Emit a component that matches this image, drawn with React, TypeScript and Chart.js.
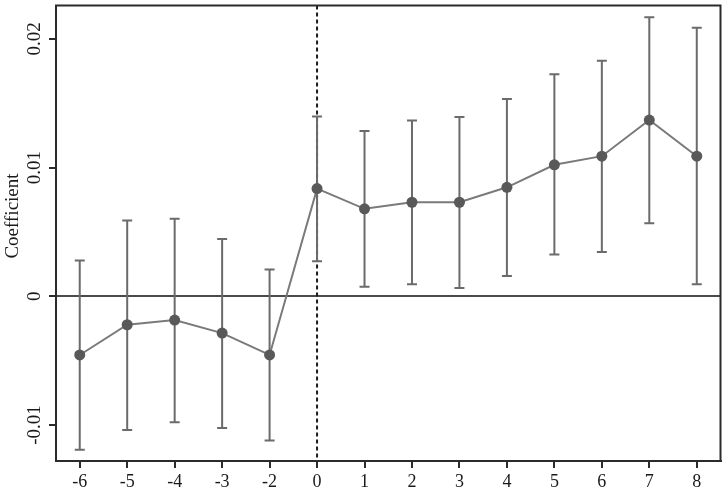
import React, { useEffect, useRef } from "react";
import { Chart, registerables } from "chart.js";

Chart.register(...registerables);

const xLabels = ["-6", "-5", "-4", "-3", "-2", "0", "1", "2", "3", "4", "5", "6", "7", "8"];
const coef = [-0.00456, -0.00221, -0.00185, -0.00286, -0.00456, 0.00837, 0.0068, 0.00731, 0.00731, 0.00847, 0.01022, 0.01089, 0.0137, 0.01089];
const upper = [0.00278, 0.0059, 0.00602, 0.00446, 0.00208, 0.01398, 0.01285, 0.01367, 0.01393, 0.01534, 0.01725, 0.0183, 0.02168, 0.02088];
const lower = [-0.01192, -0.01039, -0.00978, -0.01024, -0.0112, 0.00273, 0.00075, 0.00093, 0.00065, 0.00158, 0.00324, 0.00345, 0.00567, 0.00093];
const yTicks = [-0.01, 0, 0.01, 0.02];
const yTickLabels = ["-0.01", "0", "0.01", "0.02"];
const eventLabel = "0";
const yTitle = "Coefficient";

const FONT = '"Liberation Serif", "Times New Roman", serif';

const overlayPlugin = {
  id: "overlay",
  beforeDatasetsDraw(chart: any) {
    const { ctx, chartArea, scales } = chart;
    const xs = scales.x;
    const ys = scales.y;
    ctx.save();
    // dashed event line
    const ex = xs.getPixelForValue(xLabels.indexOf(eventLabel));
    ctx.strokeStyle = "#1a1a1a";
    ctx.lineWidth = 2;
    ctx.setLineDash([4, 3]);
    ctx.beginPath();
    ctx.moveTo(ex, chartArea.top);
    ctx.lineTo(ex, chartArea.bottom);
    ctx.stroke();
    ctx.setLineDash([]);
    // error bars
    ctx.strokeStyle = "#6b6b6b";
    ctx.lineWidth = 2;
    for (let i = 0; i < coef.length; i++) {
      const x = xs.getPixelForValue(i);
      const yu = ys.getPixelForValue(upper[i]);
      const yl = ys.getPixelForValue(lower[i]);
      ctx.beginPath();
      ctx.moveTo(x, yu);
      ctx.lineTo(x, yl);
      ctx.moveTo(x - 5, yu);
      ctx.lineTo(x + 5, yu);
      ctx.moveTo(x - 5, yl);
      ctx.lineTo(x + 5, yl);
      ctx.stroke();
    }
    ctx.restore();
  },
  afterDraw(chart: any) {
    const { ctx, chartArea, scales } = chart;
    const xs = scales.x;
    const ys = scales.y;
    ctx.save();
    // frame
    ctx.strokeStyle = "#2b2b2b";
    ctx.lineWidth = 2;
    ctx.strokeRect(chartArea.left, chartArea.top, chartArea.right - chartArea.left, chartArea.bottom - chartArea.top);
    ctx.fillStyle = "#1a1a1a";
    // x labels
    ctx.font = "18px " + FONT;
    ctx.textAlign = "center";
    ctx.textBaseline = "alphabetic";
    for (let i = 0; i < xLabels.length; i++) {
      ctx.fillText(xLabels[i], xs.getPixelForValue(i), 487);
    }
    // y labels
    ctx.font = "19px " + FONT;
    for (let i = 0; i < yTicks.length; i++) {
      const y = ys.getPixelForValue(yTicks[i]);
      ctx.save();
      ctx.translate(40, y);
      ctx.rotate(-Math.PI / 2);
      ctx.fillText(yTickLabels[i], 0, 0);
      ctx.restore();
    }
    // y title
    ctx.save();
    ctx.translate(18, 216);
    ctx.rotate(-Math.PI / 2);
    ctx.fillText(yTitle, 0, 0);
    ctx.restore();
    ctx.restore();
  },
};

export default function App() {
  const ref = useRef<HTMLCanvasElement | null>(null);
  useEffect(() => {
    if (!ref.current) return;
    const chart = new Chart(ref.current, {
      type: "line",
      data: {
        datasets: [
          {
            data: coef.map((v, i) => ({ x: i, y: v })),
            borderColor: "#7a7a7a",
            borderWidth: 2,
            pointRadius: 5.5,
            pointBackgroundColor: "#595959",
            pointBorderColor: "#595959",
            pointBorderWidth: 0,
            tension: 0,
          },
        ],
      },
      options: {
        responsive: false,
        animation: false,
        events: [],
        layout: { padding: { top: 2, right: 2, left: 0, bottom: 0 } },
        plugins: { legend: { display: false }, tooltip: { enabled: false } },
        scales: {
          x: {
            type: "linear",
            min: -0.5,
            max: xLabels.length - 0.5,
            afterBuildTicks: (s: any) => {
              s.ticks = xLabels.map((_, i) => ({ value: i }));
            },
            afterFit: (s: any) => {
              s.height = 30;
            },
            ticks: { display: false },
            grid: { drawOnChartArea: false, tickLength: 7, tickColor: "#2b2b2b", lineWidth: 2 },
            border: { display: true, color: "#2b2b2b", width: 2 },
          },
          y: {
            type: "linear",
            min: -0.0128,
            max: 0.0226,
            afterBuildTicks: (s: any) => {
              s.ticks = yTicks.map((v) => ({ value: v }));
            },
            afterFit: (s: any) => {
              s.width = 56;
            },
            ticks: { display: false },
            grid: {
              tickLength: 7,
              tickColor: "#2b2b2b",
              lineWidth: 2,
              color: (c: any) => (c.tick && c.tick.value === 0 ? "#4a4a4a" : "rgba(0,0,0,0)"),
            },
            border: { display: true, color: "#2b2b2b", width: 2 },
          },
        },
      },
      plugins: [overlayPlugin],
    });
    return () => chart.destroy();
  }, []);
  return (
    <div style={{ position: "fixed", left: 0, top: 0, width: 726, height: 491, background: "#fff" }}>
      <canvas ref={ref} width={726} height={491} style={{ display: "block" }} />
    </div>
  );
}
